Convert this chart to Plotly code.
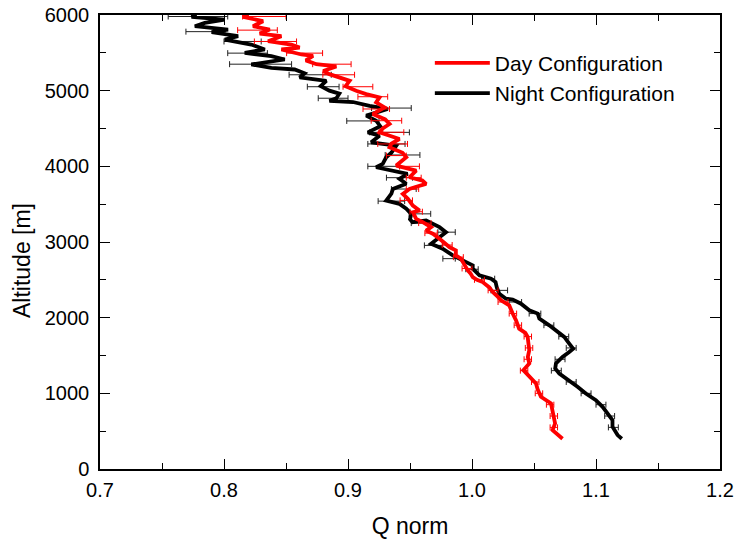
import plotly.graph_objects as go

# ---------------- data ----------------
day_alt = [6000, 5975, 5918, 5852, 5808, 5755, 5720, 5654, 5610, 5570, 5544, 5478, 5460, 5400, 5350,
           5320, 5260, 5218, 5130, 5060, 4999, 4955, 4911, 4845, 4778, 4691, 4620, 4560, 4500, 4449,
           4361, 4300, 4251, 4180, 4120, 4060, 4010, 3944, 3856, 3812, 3768, 3730, 3702, 3636, 3570,
           3482, 3416, 3394, 3306, 3262, 3196, 3150, 3109, 3043, 2977, 2930, 2889, 2823, 2780, 2734,
           2680, 2625, 2580, 2536, 2500, 2470, 2400, 2339, 2290, 2229, 2163, 2110, 2054, 1965, 1900,
           1855, 1800, 1745, 1660, 1570, 1480, 1394, 1306, 1250, 1196, 1130, 1050, 954, 866, 780,
           700, 602, 514, 460, 400]
day_q = [0.820, 0.8154, 0.8315, 0.8234, 0.8369, 0.8288, 0.8463, 0.8355, 0.8543, 0.861, 0.8463, 0.8624,
         0.8718, 0.866, 0.8745, 0.8906, 0.880, 0.885, 0.9013, 0.898, 0.9066, 0.9147, 0.9254, 0.9227,
         0.9295, 0.920, 0.930, 0.9335, 0.928, 0.9254, 0.9415, 0.935, 0.9335, 0.944, 0.947, 0.942,
         0.9389, 0.955, 0.9496, 0.960, 0.963, 0.955, 0.9496, 0.9442, 0.9483, 0.9523, 0.9577, 0.9523,
         0.955, 0.9603, 0.967, 0.963, 0.9684, 0.9738, 0.9791, 0.982, 0.987, 0.987, 0.991, 0.9925,
         0.994, 0.9966, 0.999, 1.0006, 1.004, 1.0086, 1.014, 1.0167, 1.020, 1.0234, 1.030, 1.031,
         1.0328, 1.0355, 1.037, 1.038, 1.043, 1.0449, 1.0455, 1.0462, 1.045, 1.0462, 1.0414, 1.045,
         1.0476, 1.0516, 1.053, 1.0556, 1.0637, 1.065, 1.066, 1.067, 1.065, 1.069, 1.073]

night_alt = [6000, 5975, 5940, 5896, 5852, 5808, 5773, 5720, 5676, 5610, 5544, 5500, 5456, 5412, 5346,
             5302, 5280, 5230, 5175, 5130, 5060, 5000, 4960, 4900, 4867, 4850, 4800, 4758, 4670, 4603,
             4530, 4449, 4405, 4317, 4273, 4180, 4120, 4032, 3988, 3950, 3900, 3834, 3770, 3702, 3640,
             3548, 3504, 3440, 3372, 3300, 3262, 3284, 3196, 3130, 3065, 2977, 2911, 2823, 2757, 2691,
             2647, 2559, 2515, 2470, 2400, 2317, 2251, 2238, 2185, 2097, 2054, 1987, 1899, 1811, 1745,
             1658, 1591, 1547, 1481, 1394, 1328, 1262, 1174, 1086, 998, 910, 822, 734, 646, 558, 448, 400]
night_q = [0.778, 0.7738, 0.8006, 0.7845, 0.7765, 0.8033, 0.790, 0.8114, 0.8006, 0.822, 0.8329, 0.8167,
           0.8382, 0.849, 0.822, 0.8382, 0.857, 0.865, 0.861, 0.8825, 0.878, 0.885, 0.893, 0.8906,
           0.885, 0.904, 0.9174, 0.932, 0.9147, 0.9227, 0.926, 0.916, 0.9254, 0.9187, 0.9389, 0.935,
           0.9308, 0.928, 0.9227, 0.935, 0.948, 0.9415, 0.947, 0.9362, 0.935, 0.9308, 0.9415, 0.947,
           0.951, 0.950, 0.952, 0.963, 0.9738, 0.979, 0.9738, 0.967, 0.9763, 0.9845, 0.9925, 1.0006,
           1.0006, 1.006, 1.0154, 1.019, 1.020, 1.022, 1.0274, 1.0328, 1.0395, 1.0462, 1.053, 1.0543,
           1.0623, 1.069, 1.0744, 1.0784, 1.0816, 1.0784, 1.073, 1.0677, 1.0671, 1.0704, 1.0784,
           1.0851, 1.0918, 1.0999, 1.1053, 1.1093, 1.1133, 1.1133, 1.1174, 1.1208]

# error bars (altitude, centre, half-width)
day_err_alt = [5980, 5800, 5650, 5496, 5350, 5210, 5052, 4920, 4758, 4603, 4450, 4296, 4142, 4000,
               3850, 3700, 3550, 3400, 3250, 3117, 2960, 2800, 2650, 2500, 2361, 2207, 2054, 1900,
               1750, 1600, 1450, 1300, 1150, 1000, 850, 700, 550]
day_err_q = [0.8325, 0.827, 0.8415, 0.865, 0.887, 0.8925, 0.908, 0.920, 0.9228, 0.931, 0.935, 0.936,
             0.939, 0.9496, 0.953, 0.952, 0.947, 0.955, 0.962, 0.967, 0.980, 0.989, 0.996, 1.006,
             1.017, 1.025, 1.033, 1.037, 1.045, 1.046, 1.045, 1.042, 1.051, 1.054, 1.063, 1.066, 1.066]
day_err = [0.0175, 0.016, 0.017, 0.0145, 0.0155, 0.0128, 0.012, 0.012, 0.0107, 0.0123, 0.010, 0.012,
           0.008, 0.008, 0.006, 0.005, 0.005, 0.005, 0.005, 0.005, 0.004, 0.004, 0.004, 0.004,
           0.004, 0.004, 0.003, 0.003, 0.003, 0.003, 0.003, 0.003, 0.003, 0.003, 0.003, 0.003, 0.003]

night_err_alt = [5980, 5780, 5650, 5496, 5350, 5210, 5052, 4900, 4770, 4600, 4449, 4296, 4150, 4000,
                 3850, 3700, 3540, 3372, 3250, 3130, 2955, 2780, 2640, 2515, 2361, 2207, 2054, 1900,
                 1750, 1600, 1450, 1300, 1150, 1000, 850, 700, 550]
night_err_q = [0.779, 0.785, 0.815, 0.819, 0.8295, 0.8695, 0.880, 0.888, 0.935, 0.912, 0.9335, 0.931,
               0.944, 0.9288, 0.9415, 0.945, 0.935, 0.958, 0.957, 0.9795, 0.969, 0.9815, 1.000, 1.013,
               1.022, 1.035, 1.0508, 1.062, 1.074, 1.080, 1.071, 1.068, 1.080, 1.092, 1.104, 1.111, 1.114]
night_err = [0.024, 0.0157, 0.015, 0.016, 0.025, 0.017, 0.0128, 0.012, 0.016, 0.013, 0.016, 0.015,
             0.014, 0.0128, 0.0105, 0.010, 0.0107, 0.0087, 0.006, 0.007, 0.0074, 0.005, 0.005, 0.0053,
             0.0067, 0.005, 0.0047, 0.004, 0.004, 0.004, 0.004, 0.004, 0.004, 0.004, 0.004, 0.004, 0.004]

x_title = "Q norm"
y_title = "Altitude [m]"

DAY_COLOR = "#ff0000"
NIGHT_COLOR = "#000000"
FONT = "Arial, 'Liberation Sans', sans-serif"

fig = go.Figure()

fig.add_trace(go.Scatter(x=night_err_q, y=night_err_alt, mode="markers",
                         marker=dict(size=1, color=NIGHT_COLOR, opacity=0),
                         error_x=dict(type="data", array=night_err, color="#222222",
                                      thickness=1, width=3),
                         showlegend=False, hoverinfo="skip"))
fig.add_trace(go.Scatter(x=night_q, y=night_alt, mode="lines", name="Night Configuration",
                         line=dict(color=NIGHT_COLOR, width=3.8), legendrank=2))
fig.add_trace(go.Scatter(x=day_err_q, y=day_err_alt, mode="markers",
                         marker=dict(size=1, color=DAY_COLOR, opacity=0),
                         error_x=dict(type="data", array=day_err, color=DAY_COLOR,
                                      thickness=1, width=3),
                         showlegend=False, hoverinfo="skip"))
fig.add_trace(go.Scatter(x=day_q, y=day_alt, mode="lines", name="Day Configuration",
                         line=dict(color=DAY_COLOR, width=3.8), legendrank=1))

axis_common = dict(showline=True, linecolor="black", linewidth=1.5, mirror="allticks",
                   ticks="inside", ticklen=10, tickwidth=1.3, tickcolor="black",
                   showgrid=False, zeroline=False, automargin=False,
                   tickfont=dict(family=FONT, size=20, color="black"))

fig.update_xaxes(range=[0.7, 1.2], dtick=0.1, tickformat=".1f", ticklabelstandoff=2,
                 minor=dict(ticks="inside", ticklen=6, dtick=0.05, tickwidth=1.3, tickcolor="black"),
                 title=dict(text=x_title, font=dict(family=FONT, size=23, color="black"), standoff=18),
                 **axis_common)
fig.update_yaxes(range=[0, 6000], dtick=1000, ticklabelstandoff=5,
                 minor=dict(ticks="inside", ticklen=6, dtick=500, tickwidth=1.3, tickcolor="black"),
                 **axis_common)

# y-axis title placed as an annotation (it sits slightly below the axis centre in the reference)
fig.add_annotation(text=y_title, textangle=-90, showarrow=False,
                   xref="paper", yref="paper", x=-0.126, y=0.46,
                   xanchor="center", yanchor="middle",
                   font=dict(family=FONT, size=23, color="black"))

fig.update_layout(width=738, height=540,
                  margin=dict(l=100, r=18, t=15, b=71),
                  plot_bgcolor="white", paper_bgcolor="white",
                  font=dict(family=FONT, color="black"),
                  legend=dict(x=0.532, y=0.939, xanchor="left", yanchor="top",
                              bgcolor="rgba(0,0,0,0)", borderwidth=0,
                              font=dict(family=FONT, size=21, color="black"),
                              itemwidth=55, tracegroupgap=0))

fig.write_html("out.html")
